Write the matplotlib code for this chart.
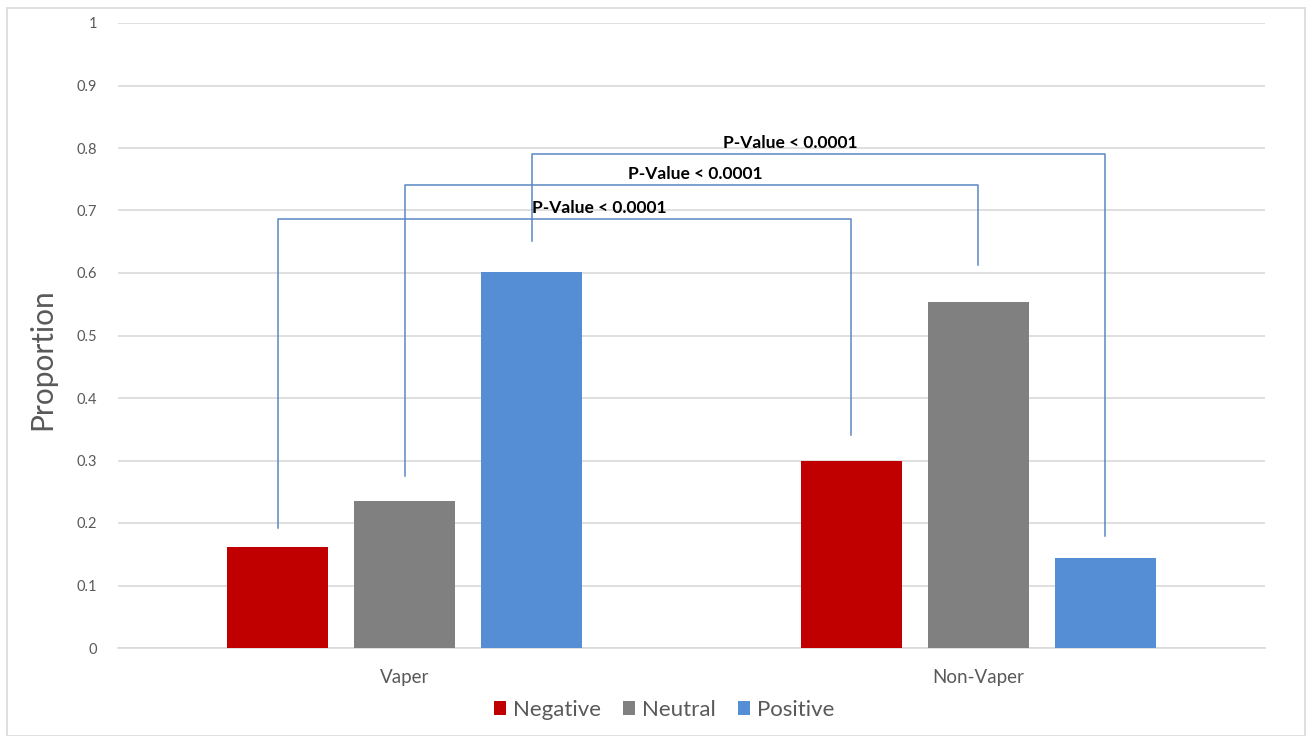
import matplotlib
matplotlib.use("Agg")
import matplotlib.pyplot as plt
import numpy as np
from matplotlib.patches import Rectangle

plt.rcParams['font.family'] = ['Lato', 'DejaVu Sans']

categories = ["Vaper", "Non-Vaper"]
series = ["Negative", "Neutral", "Positive"]
negative = [0.161, 0.299]
neutral = [0.236, 0.554]
positive = [0.601, 0.144]
colors = ["#c00000", "#808080", "#558ed5"]

# significance brackets: (bracket top, left leg bottom, right leg bottom, label x)
p_labels = ["P-Value < 0.0001", "P-Value < 0.0001", "P-Value < 0.0001"]
bracket_top = [0.686, 0.741, 0.790]
leg_left = [0.192, 0.275, 0.651]
leg_right = [0.341, 0.613, 0.179]
label_x = [0.339, 0.506, 0.673]

fig = plt.figure(figsize=(13.12, 7.36), dpi=100)
fig.patches.append(Rectangle((7/1312, 0), 1 - 14/1312, 1 - 8/736, transform=fig.transFigure,
                             fill=False, edgecolor="#d9d9d9", lw=1.2))
ax = fig.add_axes([118/1312, 1 - 648/736, (1265 - 118)/1312, (648 - 23)/736])

x = np.arange(len(categories))
width = 0.176
step = 0.2215
vals = [negative, neutral, positive]
for i, (name, v, c) in enumerate(zip(series, vals, colors)):
    ax.bar(x + (i - 1) * step, v, width, color=c, label=name, zorder=3)

bc = "#5b87c5"
for i in range(3):
    xl = x[0] + (i - 1) * step
    xr = x[1] + (i - 1) * step
    ax.plot([xl, xl, xr, xr], [leg_left[i], bracket_top[i], bracket_top[i], leg_right[i]],
            color=bc, lw=1.1, zorder=4)
    ax.text(label_x[i], bracket_top[i] + 0.005, p_labels[i], ha="center", va="bottom",
            fontsize=12.5, fontweight="bold", color="black", zorder=5)

ax.set_xlim(-0.5, 1.5)
ax.set_ylim(0, 1)
ax.set_yticks(np.arange(0, 1.01, 0.1))
ax.set_yticklabels(["0", "0.1", "0.2", "0.3", "0.4", "0.5", "0.6", "0.7", "0.8", "0.9", "1"])
ax.set_xticks(x)
ax.set_xticklabels(categories)
ax.yaxis.grid(True, color="#d9d9d9", lw=1.2, zorder=0)
ax.set_axisbelow(True)
for s in ["top", "right", "left"]:
    ax.spines[s].set_visible(False)
ax.spines["bottom"].set_color("#d9d9d9")
ax.spines["bottom"].set_linewidth(1.2)
ax.tick_params(axis="both", length=0, colors="#595959", labelsize=10.5)
ax.tick_params(axis="y", pad=15)
ax.tick_params(axis="x", pad=15, labelsize=13.5)
ax.set_ylabel("Proportion", fontsize=21.5, color="#595959")
ax.yaxis.set_label_coords(-0.054, 0.462)

leg = fig.legend(loc="center", bbox_to_anchor=(0.506, 1 - 710/736), ncol=3, frameon=False,
                 fontsize=16, handlelength=0.55, handleheight=0.55, handletextpad=0.3,
                 columnspacing=1.0)
for t in leg.get_texts():
    t.set_color("#595959")

fig.savefig("out.png", dpi=100, facecolor="white")
